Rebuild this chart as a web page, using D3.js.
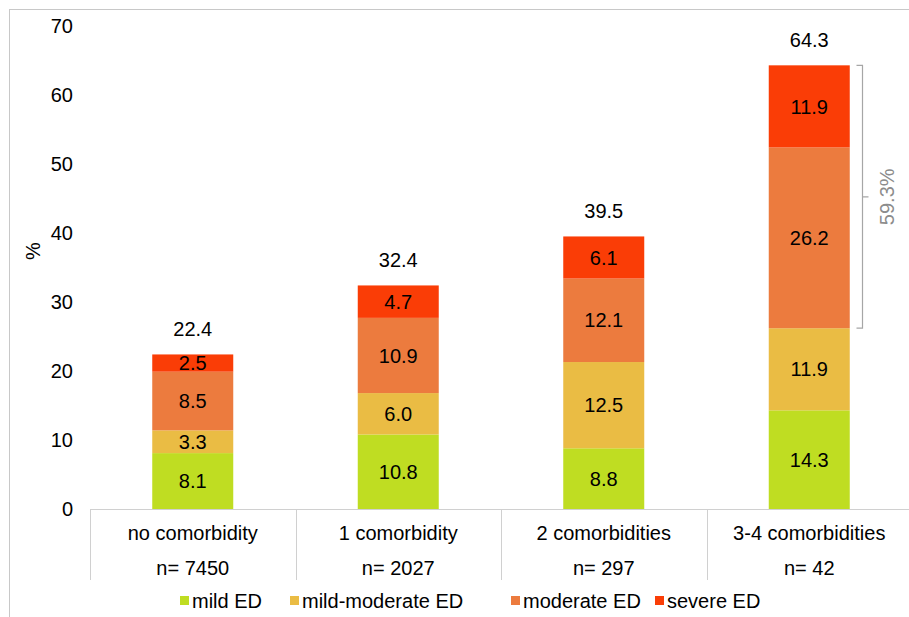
<!DOCTYPE html>
<html>
<head>
<meta charset="utf-8">
<script src="https://cdn.jsdelivr.net/npm/d3@7"></script>
<style>
  html, body { margin: 0; padding: 0; background: #fff; }
  svg { display: block; font-family: "Liberation Sans", Arial, sans-serif; }
</style>
</head>
<body>
<svg id="chart" width="909" height="617"></svg>
<script>
// Categories and sample sizes
const categories = ["no comorbidity", "1 comorbidity", "2 comorbidities", "3-4 comorbidities"];
const sampleSizes = ["n= 7450", "n= 2027", "n= 297", "n= 42"];

// ED severity series (%), stacked bottom to top
const seriesNames = ["mild ED", "mild-moderate ED", "moderate ED", "severe ED"];
const mild = [8.1, 10.8, 8.8, 14.3];
const mildModerate = [3.3, 6.0, 12.5, 11.9];
const moderate = [8.5, 10.9, 12.1, 26.2];
const severe = [2.5, 4.7, 6.1, 11.9];
const totals = [22.4, 32.4, 39.5, 64.3];

// Bracket annotation for moderate + severe in the last group
const bracketLabel = "59.3%";

const yTicks = [0, 10, 20, 30, 40, 50, 60, 70];
const colors = ["#BFDD22", "#EABC44", "#EC7B3E", "#FA3D06"];

const FS = 20;
const svg = d3.select("#chart");
const W = 909, H = 617;

// chart frame
svg.append("rect")
  .attr("x", 9.5).attr("y", 9.5)
  .attr("width", W + 10).attr("height", H + 10)
  .attr("fill", "none").attr("stroke", "#c8c8c8").attr("stroke-width", 1);

const plotLeft = 90, plotRight = 912;
const x = d3.scaleBand().domain(categories).range([plotLeft, plotRight]).paddingInner(0).paddingOuter(0);
const y = d3.scaleLinear().domain([0, 70]).range([509, 26]);
const barW = 81;

// stack data
const rows = categories.map((c, i) => ({
  cat: c,
  "mild ED": mild[i],
  "mild-moderate ED": mildModerate[i],
  "moderate ED": moderate[i],
  "severe ED": severe[i]
}));
const stacked = d3.stack().keys(seriesNames)(rows);

// y axis labels
const yAxis = d3.axisLeft(y).tickValues(yTicks).tickSize(0).tickPadding(0);
const gy = svg.append("g").attr("transform", "translate(73,0)").call(yAxis);
gy.select(".domain").remove();
gy.selectAll("text").attr("font-size", FS).attr("fill", "#000")
  .attr("font-family", "Liberation Sans, Arial, sans-serif");

svg.append("text")
  .attr("transform", "translate(40,251) rotate(-90)")
  .attr("text-anchor", "middle")
  .attr("font-size", FS)
  .text("%");

// bars
const layer = svg.append("g").selectAll("g").data(stacked).join("g")
  .attr("fill", (d, i) => colors[i]);

layer.selectAll("rect").data(d => d).join("rect")
  .attr("x", d => x(d.data.cat) + x.bandwidth() / 2 - barW / 2)
  .attr("width", barW)
  .attr("y", d => y(d[1]))
  .attr("height", d => y(d[0]) - y(d[1]));

// segment value labels
stacked.forEach((s) => {
  svg.append("g").selectAll("text").data(s).join("text")
    .attr("x", d => x(d.data.cat) + x.bandwidth() / 2)
    .attr("y", d => (y(d[0]) + y(d[1])) / 2)
    .attr("dy", "0.36em")
    .attr("text-anchor", "middle")
    .attr("font-size", FS)
    .attr("fill", "#000")
    .text(d => (d[1] - d[0]).toFixed(1));
});

// totals above bars
svg.append("g").selectAll("text").data(categories).join("text")
  .attr("x", c => x(c) + x.bandwidth() / 2)
  .attr("y", (c, i) => y(totals[i]) - 18)
  .attr("text-anchor", "middle")
  .attr("font-size", FS)
  .attr("fill", "#000")
  .text((c, i) => totals[i].toFixed(1));

// category axis with table-like separators
const axisColor = "#d0d0d0";
svg.append("line")
  .attr("x1", plotLeft).attr("x2", W)
  .attr("y1", 509.5).attr("y2", 509.5)
  .attr("stroke", axisColor);
categories.forEach((c, i) => {
  const xl = Math.round(x(c)) + 0.5;
  svg.append("line")
    .attr("x1", xl).attr("x2", xl)
    .attr("y1", 509).attr("y2", 580)
    .attr("stroke", axisColor);
});
svg.append("g").selectAll("text").data(categories).join("text")
  .attr("x", c => x(c) + x.bandwidth() / 2)
  .attr("y", 540)
  .attr("text-anchor", "middle")
  .attr("font-size", FS)
  .text(c => c);
svg.append("g").selectAll("text").data(categories).join("text")
  .attr("x", c => x(c) + x.bandwidth() / 2)
  .attr("y", 575)
  .attr("text-anchor", "middle")
  .attr("font-size", FS)
  .text((c, i) => sampleSizes[i]);

// bracket over moderate + severe of the last group
const last = categories.length - 1;
const bTop = y(totals[last]);
const bBot = y(mild[last] + mildModerate[last]);
const bx = 862.5;
const bMid = (bTop + bBot) / 2;
svg.append("path")
  .attr("d", `M${bx - 6},${bTop} H${bx} V${bBot} H${bx - 6} M${bx},${bMid} H${bx + 6}`)
  .attr("fill", "none")
  .attr("stroke", "#a6a6a6")
  .attr("stroke-width", 1.2);
svg.append("text")
  .attr("transform", `translate(${bx + 31},${bMid}) rotate(-90)`)
  .attr("text-anchor", "middle")
  .attr("font-size", FS)
  .attr("fill", "#8c8c8c")
  .text(bracketLabel);

// legend
const legendX = [180, 290, 511, 655];
const legend = svg.append("g").selectAll("g").data(seriesNames).join("g")
  .attr("transform", (d, i) => `translate(${legendX[i]},601)`);
legend.append("rect")
  .attr("x", 0).attr("y", -5).attr("width", 9).attr("height", 9)
  .attr("fill", (d, i) => colors[i]);
legend.append("text")
  .attr("x", 12).attr("y", 0).attr("dy", "0.36em")
  .attr("font-size", FS)
  .text(d => d);
</script>
</body>
</html>
